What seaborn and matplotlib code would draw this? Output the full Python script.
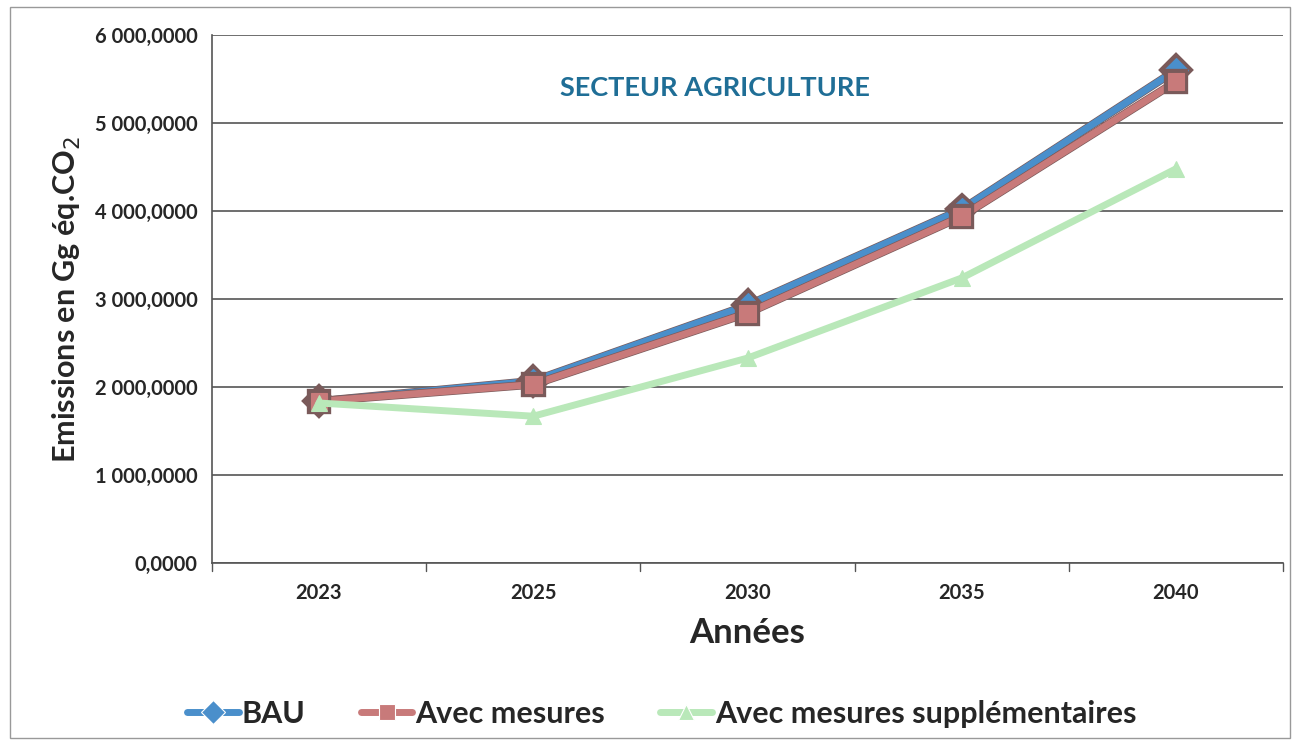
import pandas as pd
import seaborn as sns
import matplotlib.pyplot as plt
import matplotlib.patheffects as pe
from matplotlib.ticker import FuncFormatter

# Values (Gg éq.CO2)
annees = ["2023", "2025", "2030", "2035", "2040"]
bau = [1840, 2070, 2930, 4020, 5600]
avec_mesures = [1840, 2030, 2840, 3940, 5470]
avec_mesures_supp = [1820, 1670, 2330, 3240, 4480]

series = ["BAU", "Avec mesures", "Avec mesures supplémentaires"]
colors = ["#4a8fcb", "#c87a7a", "#b9e8b9"]
markers = ["D", "s", "^"]

df = pd.DataFrame({
    "Années": annees * 3,
    "Emissions": bau + avec_mesures + avec_mesures_supp,
    "Scénario": [s for s in series for _ in annees],
})

sns.set_theme(style="white")
plt.rcParams["font.family"] = ["Lato", "DejaVu Sans"]

fig = plt.figure(figsize=(13, 7.45), dpi=100)
ax = fig.add_axes([0.163, 0.244, 0.824, 0.709])

sns.lineplot(data=df, x="Années", y="Emissions", hue="Scénario", style="Scénario",
             palette=colors, markers=markers, dashes=False, linewidth=5,
             markersize=12, markeredgewidth=0.8, ax=ax, sort=False)

for line, c in zip(ax.get_lines(), colors):
    line.set_markeredgecolor(c)
    if c != colors[2]:
        line.set_path_effects([pe.Stroke(linewidth=6, foreground="#7a5a5a"), pe.Normal()])

ax.set_ylim(0, 6000)
ax.set_xlim(-0.5, 4.5)
ax.set_yticks(range(0, 6001, 1000))
ax.yaxis.set_major_formatter(FuncFormatter(
    lambda v, p: f"{int(v):,}".replace(",", " ") + ",0000"))
ax.grid(axis="y", color="#555555", linewidth=1.2)
ax.set_axisbelow(True)

ax.set_xticks(range(len(annees)))
ax.set_xticklabels(annees)
ax.tick_params(axis="x", length=0, pad=14)
for xb in [-0.5, 0.5, 1.5, 2.5, 3.5, 4.5]:
    ax.plot([xb, xb], [0, -90], color="#555555", lw=1, clip_on=False)
ax.tick_params(axis="y", length=7, color="#555555", width=1)
for lab in ax.get_xticklabels() + ax.get_yticklabels():
    lab.set_fontweight("bold")
    lab.set_fontsize(14.5)

for s in ["top", "right"]:
    ax.spines[s].set_visible(False)
for s in ["left", "bottom"]:
    ax.spines[s].set_color("#555555")
    ax.spines[s].set_linewidth(1.2)

ax.set_xlabel("Années", fontsize=25, fontweight="bold", labelpad=10)
ax.set_ylabel("Emissions en Gg éq.CO$_2$", fontsize=22, fontweight="bold", labelpad=8)

ax.text(0.47, 0.90, "SECTEUR AGRICULTURE", transform=ax.transAxes, ha="center",
        va="center", fontsize=19.5, fontweight="bold", color="#1f6e96")

handles, labels = ax.get_legend_handles_labels()
ax.legend(handles, labels, loc="center", bbox_to_anchor=(0.42, -0.285), ncol=3,
          frameon=False, prop={"size": 22, "weight": "bold"}, handlelength=1.7,
          handletextpad=0.1, columnspacing=1.8, markerscale=1.0)

fig.patches.append(plt.Rectangle((0.008, 0.01), 0.984, 0.98, transform=fig.transFigure,
                                 fill=False, edgecolor="#999999", lw=1))

plt.savefig("out.png", dpi=100)
